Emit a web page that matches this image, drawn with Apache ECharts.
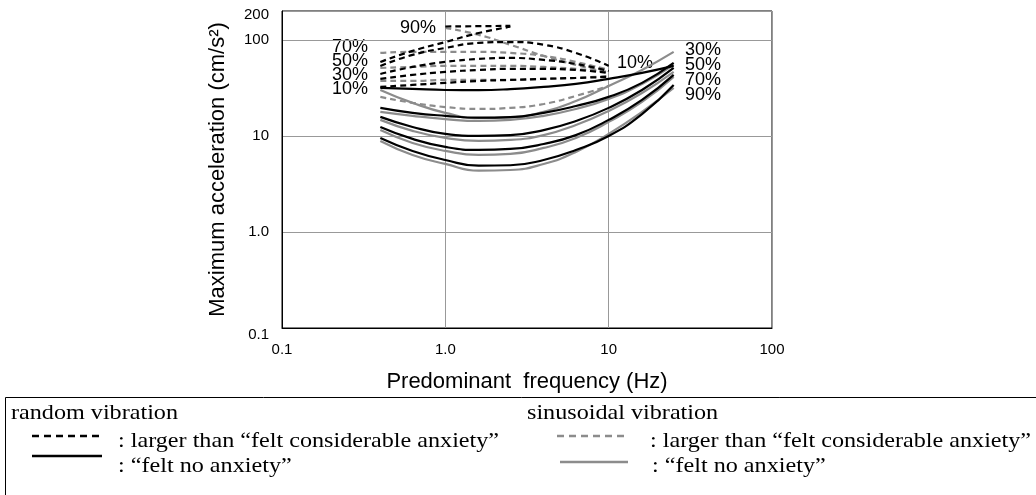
<!DOCTYPE html>
<html><head><meta charset="utf-8">
<script src="https://cdn.jsdelivr.net/npm/echarts@6/dist/echarts.min.js"></script>
<style>html,body{margin:0;padding:0;background:#fff}#c{width:1036px;height:495px}</style>
</head><body><div id="c"></div>
<script>
// ---- data ----
const freqFull  = [0.4, 0.63, 1, 1.6, 2.5, 4, 6.3, 10, 16, 25];
const freqShort = [0.4, 0.63, 1, 1.6, 2.5, 4, 6.3, 10];
const freqR90   = [0.4, 0.63, 1, 1.6, 2.5];
const freqR90Top = [1, 2.5];
const freqS90   = [1, 1.6, 2.5, 4, 6.3, 10];

const xTickValues = [0.1, 1, 10, 100];
const xTickLabels = ['0.1', '1.0', '10', '100'];
const yTickValues = [0.1, 1, 10, 100, 200];
const yTickLabels = ['0.1', '1.0', '10', '100', '200'];

// random vibration, "felt no anxiety" (solid black)
const randomNo10 = [31.6, 30.9, 30.1, 30.0, 30.7, 32.4, 34.8, 39.3, 45.3, 53.6];
const randomNo30 = [19.6, 17.4, 16.2, 15.5, 15.7, 17.4, 20.5, 25.5, 35.7, 57.6];
const randomNo50 = [15.8, 12.4, 10.5, 10.0, 10.2, 11.5, 14.3, 19.6, 30.1, 51.1];
const randomNo70 = [12.4, 9.31, 7.68, 7.15, 7.32, 8.25, 10.2, 14.7, 23.7, 43.2];
const randomNo90 = [9.53, 6.98, 5.62, 4.90, 4.95, 5.62, 7.15, 10.0, 16.9, 34.0];
// sinusoidal vibration, "felt no anxiety" (solid gray)
const sinNo10 = [30.1, 22.1, 17.4, 15.3, 15.6, 17.8, 23.1, 33.2, 48.7, 75.0];
const sinNo30 = [17.8, 16.2, 15.0, 14.3, 14.7, 16.2, 19.1, 24.3, 34.8, 54.9];
const sinNo50 = [14.7, 11.3, 9.53, 8.87, 9.09, 10.2, 13.0, 18.2, 28.0, 46.4];
const sinNo70 = [11.5, 8.45, 6.98, 6.34, 6.49, 7.50, 9.53, 14.0, 22.6, 41.2];
const sinNo90 = [8.87, 6.34, 5.11, 4.35, 4.42, 5.11, 6.81, 10.5, 17.8, 31.6];
// random vibration, larger than "felt considerable anxiety" (dashed black)
const randomAnx90 = [59.0, 76.8, 95.0, 118, 137];
const randomAnx90Top = [138, 140];
const randomAnx70 = [53.6, 69.8, 82.5, 93.0, 95.0, 89.0, 73.2, 53.6];
const randomAnx50 = [44.2, 52.3, 59.0, 63.4, 64.9, 61.9, 56.2, 47.5];
const randomAnx30 = [39.3, 43.2, 46.4, 48.7, 49.9, 49.9, 48.7, 45.3];
const randomAnx10 = [32.4, 34.0, 35.7, 37.4, 38.3, 39.3, 40.2, 41.2];
// sinusoidal vibration, larger than "felt considerable anxiety" (dashed gray)
const sinAnx90 = [133, 113, 89.0, 68.1, 54.9, 45.3];
const sinAnx70 = [73.2, 75.0, 75.0, 75.0, 73.2, 68.1, 59.0, 48.7];
const sinAnx50 = [51.1, 52.3, 53.6, 53.6, 53.6, 52.3, 49.9, 46.4];
const sinAnx30 = [37.4, 37.4, 38.3, 38.3, 38.3, 39.3, 40.2, 42.2];
const sinAnx10 = [25.5, 22.1, 20.0, 19.1, 19.6, 21.5, 26.1, 33.2];

// ---- build ----
const BLACK = '#000000', GRAY = '#8c8c8c';
const DASH = [6, 4];
function mk(name, freqs, vals, color, dashed) {
  return {
    name: name, type: 'line', smooth: 0.5, symbol: 'none', silent: true,
    data: freqs.map((f, i) => [f, vals[i]]),
    lineStyle: { color: color, width: 2.2, type: dashed ? DASH : 'solid' },
    z: color === BLACK ? 3 : 2
  };
}
const series = [
  mk('sinAnx10', freqShort, sinAnx10, GRAY, true),
  mk('sinAnx30', freqShort, sinAnx30, GRAY, true),
  mk('sinAnx50', freqShort, sinAnx50, GRAY, true),
  mk('sinAnx70', freqShort, sinAnx70, GRAY, true),
  mk('sinAnx90', freqS90, sinAnx90, GRAY, true),
  mk('sinNo10', freqFull, sinNo10, GRAY, false),
  mk('sinNo30', freqFull, sinNo30, GRAY, false),
  mk('sinNo50', freqFull, sinNo50, GRAY, false),
  mk('sinNo70', freqFull, sinNo70, GRAY, false),
  mk('sinNo90', freqFull, sinNo90, GRAY, false),
  mk('randomNo10', freqFull, randomNo10, BLACK, false),
  mk('randomNo30', freqFull, randomNo30, BLACK, false),
  mk('randomNo50', freqFull, randomNo50, BLACK, false),
  mk('randomNo70', freqFull, randomNo70, BLACK, false),
  mk('randomNo90', freqFull, randomNo90, BLACK, false),
  mk('randomAnx10', freqShort, randomAnx10, BLACK, true),
  mk('randomAnx30', freqShort, randomAnx30, BLACK, true),
  mk('randomAnx50', freqShort, randomAnx50, BLACK, true),
  mk('randomAnx70', freqShort, randomAnx70, BLACK, true),
  mk('randomAnx90', freqR90, randomAnx90, BLACK, true),
  mk('randomAnx90Top', freqR90Top, randomAnx90Top, BLACK, true)
];

function findLabel(values, labels, v) {
  for (let i = 0; i < values.length; i++) {
    if (Math.abs(Math.log10(v) - Math.log10(values[i])) < 1e-3) return labels[i];
  }
  return '';
}
function xFmt(v) { return findLabel(xTickValues, xTickLabels, v); }
function yFmt(v) {
  const s = findLabel(yTickValues, yTickLabels, v);
  if (s === '200') return '{top|' + s + '}';
  if (s === '0.1') return '{bot|' + s + '}';
  return s;
}

const SANS = '"Liberation Sans", Arial, sans-serif';
const SERIF = '"Liberation Serif", "Times New Roman", serif';

function txt(x, y, s, size, font, align, sx) {
  return { type: 'text', x: x, y: y, silent: true, scaleX: sx || 1,
    style: { text: s, font: size + 'px ' + font, fill: '#000', textAlign: align || 'left', textVerticalAlign: 'middle' } };
}
function seg(x1, x2, y, color, dashed, w) {
  return { type: 'line', silent: true, shape: { x1: x1, y1: y, x2: x2, y2: y },
    style: { stroke: color, lineWidth: w || 2.5, lineDash: dashed ? [7, 5] : null } };
}

const LS = 21, LSX = 1.15;
const graphics = [
  // curve labels
  txt(368, 47, '70%', 18, SANS, 'right'),
  txt(368, 61, '50%', 18, SANS, 'right'),
  txt(368, 75, '30%', 18, SANS, 'right'),
  txt(368, 89, '10%', 18, SANS, 'right'),
  txt(400, 28, '90%', 18, SANS, 'left'),
  txt(617, 63, '10%', 18, SANS, 'left'),
  txt(685, 50, '30%', 18, SANS, 'left'),
  txt(685, 65, '50%', 18, SANS, 'left'),
  txt(685, 80, '70%', 18, SANS, 'left'),
  txt(685, 95, '90%', 18, SANS, 'left'),
  // legend box
  { type: 'rect', silent: true, shape: { x: 5.5, y: 397.5, width: 1040, height: 120 },
    style: { fill: 'none', stroke: '#000', lineWidth: 1 } },
  txt(11, 413, 'random vibration', LS, SERIF, 'left', LSX),
  txt(527, 413, 'sinusoidal vibration', LS, SERIF, 'left', LSX),
  seg(32, 100, 436, BLACK, true),
  txt(118, 441, ': larger than \u201cfelt considerable anxiety\u201d', LS, SERIF, 'left', LSX),
  seg(32, 102, 456, BLACK, false),
  txt(118, 466, ': \u201cfelt no anxiety\u201d', LS, SERIF, 'left', LSX),
  seg(557, 625, 436, GRAY, true),
  txt(650, 441, ': larger than \u201cfelt considerable anxiety\u201d', LS, SERIF, 'left', LSX),
  seg(560, 628, 462, GRAY, false),
  txt(652, 466, ': \u201cfelt no anxiety\u201d', LS, SERIF, 'left', LSX)
];

const chart = echarts.init(document.getElementById('c'), null, { renderer: 'canvas' });
chart.setOption({
  animation: false,
  backgroundColor: '#fff',
  grid: { left: 282, right: 264, top: 11, bottom: 167, show: true, borderColor: '#000', borderWidth: 1, backgroundColor: 'transparent' },
  xAxis: {
    type: 'log', logBase: 10, min: 0.1, max: 100,
    name: 'Predominant  frequency (Hz)', nameLocation: 'middle', nameGap: 43,
    nameTextStyle: { fontFamily: SANS, fontSize: 22, color: '#000' },
    axisLine: { show: true, lineStyle: { color: '#000', width: 1 } },
    axisTick: { show: false },
    splitLine: { show: true, lineStyle: { color: '#999', width: 1 } },
    axisLabel: { fontFamily: SANS, fontSize: 15, color: '#000', margin: 14, formatter: xFmt }
  },
  yAxis: {
    type: 'log', logBase: 10, min: 0.1, max: 200,
    name: 'Maximum acceleration (cm/s\u00b2)', nameLocation: 'middle', nameGap: 53,
    nameTextStyle: { fontFamily: SANS, fontSize: 22, color: '#000' },
    axisLine: { show: true, lineStyle: { color: '#000', width: 1 } },
    axisTick: { show: false },
    splitLine: { show: true, lineStyle: { color: '#999', width: 1 } },
    axisLabel: { fontFamily: SANS, fontSize: 15, color: '#000', margin: 13, formatter: yFmt,
      rich: {
        top: { fontFamily: SANS, fontSize: 15, color: '#000', padding: [8, 0, 0, 0] },
        bot: { fontFamily: SANS, fontSize: 15, color: '#000', padding: [14, 0, 0, 0] }
      } }
  },
  series: series,
  graphic: graphics
});
</script>
</body></html>
